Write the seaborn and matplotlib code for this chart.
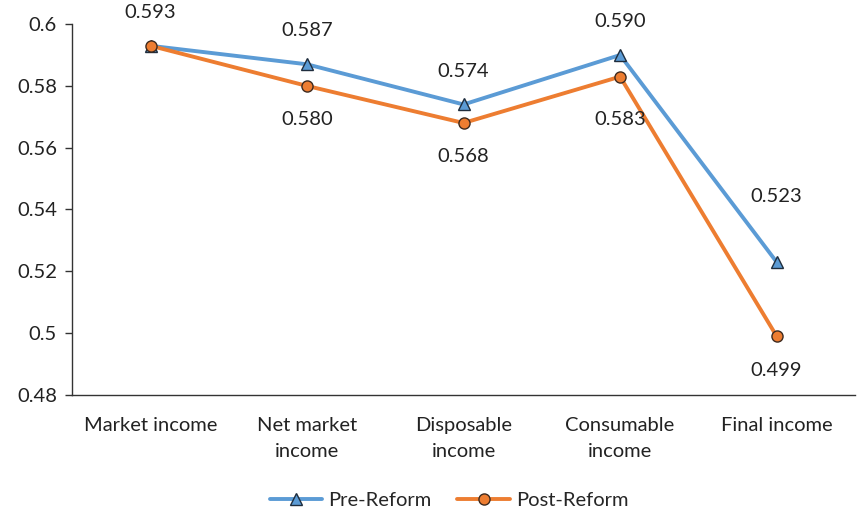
import seaborn as sns
import matplotlib.pyplot as plt
from matplotlib.lines import Line2D
import pandas as pd

sns.set_style('white')
plt.rcParams['font.family'] = ['Lato', 'DejaVu Sans']

categories = ['Market income', 'Net market\nincome', 'Disposable\nincome', 'Consumable\nincome', 'Final income']
pre_reform = [0.593, 0.587, 0.574, 0.590, 0.523]
post_reform = [0.593, 0.580, 0.568, 0.583, 0.499]

pos = list(range(len(categories)))
df = pd.DataFrame({'x': pos * 2,
                   'y': pre_reform + post_reform,
                   'series': ['Pre-Reform'] * 5 + ['Post-Reform'] * 5})

blue = '#5B9BD5'
orange = '#ED7D31'
pre_style = dict(color=blue, linewidth=2.8, marker='^', markersize=9, markerfacecolor=blue,
                 markeredgecolor='#1f2d3d', markeredgewidth=1)
post_style = dict(color=orange, linewidth=2.8, marker='o', markersize=8, markerfacecolor=orange,
                  markeredgecolor='#3d2a1f', markeredgewidth=1)

fig = plt.figure(figsize=(8.6, 5.14), dpi=100)
ax = fig.add_axes([0.084, 0.232, 0.91, 0.721])

sns.lineplot(data=df[df.series == 'Pre-Reform'], x='x', y='y', legend=False, ax=ax, **pre_style)
sns.lineplot(data=df[df.series == 'Post-Reform'], x='x', y='y', legend=False, ax=ax, **post_style)

fs = 14.5
# data labels (offsets in points, like the hand-placed labels of the original)
pre_off = [24, 24, 24, 24, 47]
post_off = [None, -24, -24, -31, -25]
for i, v in enumerate(pre_reform):
    ax.annotate(f'{v:.3f}', (i, v), xytext=(0, pre_off[i]), textcoords='offset points',
                ha='center', va='center', fontsize=fs, color='#222222')
for i, v in enumerate(post_reform):
    if post_off[i] is None:
        continue
    ax.annotate(f'{v:.3f}', (i, v), xytext=(0, post_off[i]), textcoords='offset points',
                ha='center', va='center', fontsize=fs, color='#222222')

ax.set_xlim(-0.5, 4.5)
ax.set_ylim(0.48, 0.6)
ax.set_yticks([0.48, 0.5, 0.52, 0.54, 0.56, 0.58, 0.6])
ax.set_yticklabels(['0.48', '0.5', '0.52', '0.54', '0.56', '0.58', '0.6'])
ax.set_xticks(pos)
ax.set_xticklabels(categories, linespacing=1.62)
ax.tick_params(axis='y', length=5, width=1, color='#333333', labelsize=fs, labelcolor='#222222', pad=6, left=True)
ax.tick_params(axis='x', length=0, labelsize=fs, labelcolor='#222222', pad=16)
ax.set_xlabel('')
ax.set_ylabel('')

for s in ['top', 'right']:
    ax.spines[s].set_visible(False)
for s in ['left', 'bottom']:
    ax.spines[s].set_color('#333333')
    ax.spines[s].set_linewidth(1)

handles = [Line2D([], [], **pre_style), Line2D([], [], **post_style)]
fig.legend(handles, ['Pre-Reform', 'Post-Reform'], loc='center', bbox_to_anchor=(0.522, 0.027),
           ncol=2, frameon=False, fontsize=fs, handlelength=2.6, columnspacing=1.3, handletextpad=0.3)

fig.savefig('out.png', dpi=100)
